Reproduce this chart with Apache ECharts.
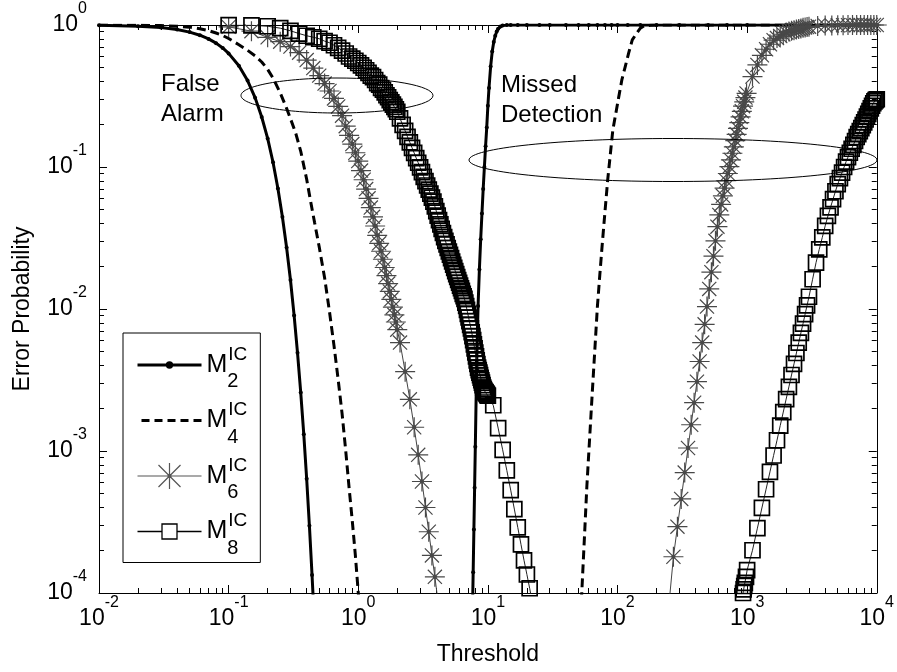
<!DOCTYPE html>
<html><head><meta charset="utf-8">
<script src="https://cdn.jsdelivr.net/npm/echarts@6/dist/echarts.min.js"></script>
<style>html,body{margin:0;padding:0;background:#fff}#c{width:897px;height:672px}</style>
</head><body><div id="c"></div>
<script>
const FONT = 'Liberation Sans, Arial, Helvetica, sans-serif';

// tick labels
const xTickValues = [0.01, 0.1, 1, 10, 100, 1000, 10000];
const xTickExponents = ['-2', '-1', '0', '1', '2', '3', '4'];
const yTickValues = [0.0001, 0.001, 0.01, 0.1, 1];
const yTickExponents = ['-4', '-3', '-2', '-1', '0'];

// legend
const seriesNames = ['M2', 'M4', 'M6', 'M8'];
const legendSubscripts = ['2', '4', '6', '8'];
const legendSuperscript = 'IC';

// M2 : false alarm and missed detection
const m2FaX = [0.01,0.02,0.03,0.04,0.05,0.06,0.07,0.08,0.09,0.10,0.12,0.14,0.16,0.18,0.20,0.22,0.24,0.26,0.28,0.30,0.32,0.34,0.36,0.38,0.40,0.42,0.44,0.46];
const m2FaY = [0.9954,0.9818,0.9594,0.929,0.891,0.847,0.798,0.745,0.689,0.631,0.516,0.406,0.308,0.225,0.159,0.108,0.0706,0.0445,0.0271,0.0160,0.00901,0.00491,0.00258,0.00131,0.000637,0.000297,0.000134,0.0000592];
const m2MdX = [7.6,7.7,7.8,7.9,8.0,8.2,8.4,8.6,8.8,9.0,9.2,9.4,9.6,9.8,10,10.2,10.5,10.8,11.1,11.4,11.7,12,12.5,13,14,15,17,20,25,30,40,50,60,70,80,90,100,120,150,200,300,500,700,1000,2000,5000,10000];
const m2MdY = [0.00007,0.00014,0.00028,0.00055,0.00107,0.0042,0.0105,0.019,0.031,0.047,0.07,0.10,0.14,0.19,0.27,0.36,0.51,0.65,0.76,0.84,0.90,0.94,0.975,0.99,0.998,1,1,1,1,1,1,1,1,1,1,1,1,1,1,1,1,1,1,1,1,1,1];

// M4
const m4FaX = [0.01,0.02,0.03,0.04,0.05,0.06,0.07,0.08,0.09,0.10,0.12,0.14,0.16,0.18,0.20,0.22,0.25,0.28,0.30,0.33,0.36,0.40,0.43,0.46,0.50,0.55,0.60,0.65,0.70,0.75,0.80,0.85,0.90,0.95,1.00,1.05];
const m4FaY = [0.999,0.996,0.990,0.980,0.966,0.942,0.914,0.878,0.844,0.803,0.726,0.664,0.607,0.549,0.487,0.423,0.333,0.259,0.219,0.172,0.129,0.082,0.0567,0.0408,0.0273,0.0166,0.00956,0.00552,0.00318,0.00184,0.00101,0.00055,0.00032,0.000184,0.000101,0.000056];
const m4MdX = [52,54,56,58,60,62,64,66,68,70,73,76,80,84,88,92,97,102,108,115,122,130,140,150,160,180,200,300,500,1000,3000,10000];
const m4MdY = [0.0000697,0.000143,0.000285,0.00056,0.00096,0.00161,0.00266,0.00425,0.0067,0.01047,0.0173,0.0275,0.0482,0.081,0.1226,0.182,0.238,0.308,0.41,0.514,0.636,0.785,0.87,0.95,0.985,0.997,1,1,1,1,1,1];

// M6
const m6FaX = [0.10,0.15,0.20,0.25,0.30,0.35,0.40,0.45,0.50,0.55,0.60,0.65,0.70,0.75,0.80,0.85,0.90,0.95,1.00,1.05,1.10,1.15,1.20,1.25,1.30,1.35,1.40,1.45,1.50,1.55,1.60,1.65,1.70,1.75,1.80,1.85,1.90,1.95,2.00,2.1,2.3,2.5,2.7,2.9,3.1,3.3,3.5,3.7,3.9,4.1];
const m6FaY = [0.970,0.905,0.819,0.763,0.705,0.638,0.566,0.497,0.440,0.387,0.343,0.304,0.267,0.230,0.194,0.167,0.145,0.126,0.110,0.0944,0.0813,0.0699,0.0602,0.0518,0.0446,0.0384,0.0330,0.0290,0.0255,0.0224,0.0196,0.0172,0.0151,0.0133,0.0117,0.0103,0.0091,0.0081,0.00715,0.0058,0.00362,0.00231,0.00147,0.00094,0.00061,0.0004,0.00027,0.000184,0.00013,0.000091];
const m6MdX = [250,270,290,310,330,350,370,390,410,430,450,470,490,510,530,550,570,590,610,630,650,670,690,710,730,750,770,790,810,830,850,870,890,910,930,950,970,990,1100,1200,1300,1400,1500,1600,1700,1800,1900,2000,2100,2200,2300,2400,2500,2600,2700,2800,2900,3000,3500,4000,4500,5000,5500,6000,6500,7000,7500,8000,8500,9000,9500,10000];
const m6MdY = [0.000085,0.00018,0.000293,0.00046,0.000705,0.00105,0.00153,0.00219,0.00308,0.00427,0.0058,0.0078,0.0104,0.01384,0.01816,0.02355,0.0302,0.038,0.046,0.0545,0.0627,0.071,0.080,0.090,0.1005,0.1122,0.125,0.1387,0.1535,0.170,0.187,0.2056,0.2254,0.2466,0.268,0.2877,0.3083,0.330,0.4335,0.5236,0.6117,0.675,0.732,0.782,0.809,0.836,0.861,0.886,0.90,0.91,0.92,0.929,0.938,0.946,0.955,0.962,0.968,0.973,0.984,0.990,0.993,0.995,0.997,0.998,0.998,0.999,0.999,0.999,1,1,1,1];

// M8
const m8FaX = [0.10,0.15,0.20,0.25,0.30,0.35,0.40,0.45,0.50,0.55,0.60,0.65,0.70,0.75,0.80,0.85,0.90,0.95,1.00,1.05,1.10,1.15,1.20,1.25,1.30,1.35,1.40,1.45,1.50,1.55,1.60,1.65,1.70,1.75,1.80,1.85,1.90,1.95,2.00,
  2.1,2.2,2.3,2.4,2.5,2.6,2.7,2.8,2.9,3.0,3.1,3.2,3.3,3.4,3.5,3.6,3.7,3.8,3.9,4.0,4.1,4.2,4.3,4.4,4.5,4.6,4.7,4.8,4.9,5.0,
  5.1,5.2,5.3,5.4,5.5,5.6,5.7,5.8,5.9,6.0,6.1,6.2,6.3,6.4,6.5,6.6,6.7,6.8,6.9,7.0,7.1,7.2,7.3,7.4,7.5,7.6,7.7,7.8,7.9,8.0,
  8.1,8.2,8.3,8.4,8.5,8.6,8.7,8.8,8.9,9.0,9.1,9.2,9.3,9.4,9.5,9.6,9.7,9.8,9.9,10.0,
  11,12,13,14,15,16,17,18,19,20,21,22];
const m8FaY = [0.999,0.995,0.98,0.95,0.91,0.87,0.84,0.82,0.80,0.77,0.75,0.72,0.69,0.66,0.63,0.60,0.58,0.56,0.54,0.52,0.50,0.48,0.46,0.44,0.43,0.41,0.39,0.38,0.36,0.35,0.335,0.32,0.31,0.296,0.285,0.275,0.265,0.255,0.245,
  0.22,0.198,0.1797,0.163,0.149,0.1365,0.1256,0.1156,0.1071,0.0993,0.092,0.0853,0.0795,0.0741,0.0694,0.065,0.0609,0.057,0.0528,0.0489,0.0454,0.0422,0.0394,0.0367,0.0343,0.0321,0.0302,0.0285,0.0269,0.0254,
  0.0241,0.0228,0.0216,0.0205,0.0195,0.0185,0.0176,0.0168,0.016,0.0153,0.0146,0.014,0.0134,0.0128,0.0123,0.0118,0.0111,0.0105,0.00986,0.00925,0.00871,0.0082,0.00774,0.0073,0.00686,0.00644,0.00603,0.00564,0.00528,0.00494,
  0.00464,0.00435,0.0041,0.00386,0.00371,0.00356,0.00342,0.00328,0.00315,0.00303,0.00291,0.0028,0.00273,0.00266,0.00262,0.00259,0.00255,0.00252,0.00248,0.00245,
  0.0021,0.00145,0.00102,0.00073,0.00053,0.00039,0.00029,0.00022,0.00017,0.000135,0.000108,0.000086];
const m8MdX = [920,930,940,950,960,980,1000,
  1100,1200,1300,1400,1500,1600,1700,1800,1900,2000,2100,2200,2300,2400,2500,2600,2700,2800,2900,
  3000,3200,3400,3600,3800,4000,4200,4400,4600,4800,5000,5200,5400,5600,5800,6000,6200,6400,6600,6800,7000,7200,7400,7600,7800,8000,8200,8400,8600,8800,9000,9200,9400,9600,9800,10000];
const m8MdY = [0.000095,0.0001,0.000106,0.000112,0.000118,0.00013,0.000145,
  0.0002,0.000286,0.000397,0.000538,0.000713,0.00093,0.00119,0.00151,0.00188,0.00232,0.00283,0.00343,0.00411,0.0049,0.0058,0.0068,0.0079,0.0092,0.0106,
  0.0122,0.0162,0.0212,0.0263,0.0319,0.0385,0.0452,0.052,0.0594,0.0675,0.0757,0.0834,0.0914,0.100,0.109,0.1175,0.126,0.1344,0.1432,0.1524,0.1626,0.1706,0.179,0.188,0.197,0.2065,0.216,0.2265,0.2366,0.2475,0.2588,0.270,0.2812,0.290,0.296,0.30];

function pairs(xs, ys) { return xs.map((x, i) => [x, ys[i]]); }
function expFormatter(values, exps) {
  return function (v) {
    let best = 0, bd = Infinity;
    values.forEach((t, i) => { const d = Math.abs(Math.log10(v) - Math.log10(t)); if (d < bd) { bd = d; best = i; } });
    return '{b|10}{s|' + exps[best] + '}';
  };
}
function minorTicks(e0, e1) {
  const out = [];
  for (let e = e0; e < e1; e++) for (let k = 2; k <= 9; k++) out.push(e + Math.log10(k));
  return out;
}

const ASTERISK = 'path://M0,-10L0,10M-10,0L10,0M-7.07,-7.07L7.07,7.07M-7.07,7.07L7.07,-7.07M-1.6,0A1.6,1.6,0,1,1,1.6,0A1.6,1.6,0,1,1,-1.6,0Z';
const ICON_M2 = 'path://M0,0M64,26M0,13L64,13M29.8,13A2.2,2.2,0,1,1,34.2,13A2.2,2.2,0,1,1,29.8,13Z';
const ICON_M4 = 'path://M0,0M64,26M4,13L12,13M17,13L25,13M30,13L38,13M43,13L51,13M56,13L64,13';
const ICON_M6 = 'path://M0,0M64,26M0,13L64,13M32,0L32,26M21,2L43,24M21,24L43,2M30.4,13A1.6,1.6,0,1,1,33.6,13A1.6,1.6,0,1,1,30.4,13Z';
const ICON_M8 = 'path://M0,0M64,26M0,13L24.5,13M39.5,13L64,13M24.5,5.5L39.5,5.5L39.5,20.5L24.5,20.5Z';

const richTick = {
  b: { fontSize: 23, fontFamily: FONT, color: '#000', lineHeight: 48, verticalAlign: 'middle' },
  s: { fontSize: 16, fontFamily: FONT, color: '#000', lineHeight: 16, verticalAlign: 'top' }
};
const black = '#000';
function logAxisBase(extra) {
  return Object.assign({
    type: 'log', logBase: 10, gridIndex: 0,
    axisLine: { show: true, onZero: false, lineStyle: { color: black, width: 1 } },
    axisTick: { show: true, inside: true, length: 8, lineStyle: { color: black, width: 1 } },
    minorTick: { show: false },
    splitLine: { show: false }
  }, extra);
}
function minorAxis(extra, ticks) {
  return Object.assign({
    type: 'value', gridIndex: 0,
    axisLine: { show: false, onZero: false },
    axisLabel: { show: false },
    splitLine: { show: false },
    axisTick: { show: true, inside: true, length: 5, customValues: ticks, lineStyle: { color: black, width: 1 } }
  }, extra);
}

const lineBase = { type: 'line', xAxisIndex: 0, yAxisIndex: 0, animation: false, silent: true, clip: true, emphasis: { disabled: true } };
const styM2 = { symbol: 'circle', symbolSize: 4, lineStyle: { color: black, width: 3 }, itemStyle: { color: black } };
const styM4 = { symbol: 'none', lineStyle: { color: black, width: 3, type: [9, 5] }, itemStyle: { color: black } };
const styM6 = { symbol: ASTERISK, symbolSize: 20, lineStyle: { color: '#444', width: 1 }, itemStyle: { color: black, borderColor: '#484848', borderWidth: 1.2 } };
const styM8 = { symbol: 'rect', symbolSize: 15, lineStyle: { color: '#222', width: 1 }, itemStyle: { color: 'rgba(0,0,0,0)', borderColor: black, borderWidth: 1.7 } };

const chart = echarts.init(document.getElementById('c'), null, { renderer: 'canvas' });
chart.setOption({
  backgroundColor: '#fff',
  animation: false,
  grid: { left: 99, right: 20, top: 25, bottom: 79 },
  xAxis: [
    logAxisBase({ min: 0.01, max: 10000, splitNumber: 6, position: 'bottom',
      axisLabel: { formatter: expFormatter(xTickValues, xTickExponents), rich: richTick, margin: 2 },
      name: 'Threshold', nameLocation: 'middle', nameGap: 50,
      nameTextStyle: { fontSize: 23, fontFamily: FONT, color: black } }),
    logAxisBase({ min: 0.01, max: 10000, splitNumber: 6, position: 'top', axisLabel: { show: false } }),
    minorAxis({ min: -2, max: 4, position: 'bottom' }, minorTicks(-2, 4)),
    minorAxis({ min: -2, max: 4, position: 'top' }, minorTicks(-2, 4))
  ],
  yAxis: [
    logAxisBase({ min: 0.0001, max: 1, splitNumber: 4, position: 'left',
      axisLabel: { formatter: expFormatter(yTickValues, yTickExponents), rich: richTick, margin: 12 },
      name: 'Error Probability', nameLocation: 'middle', nameGap: 65,
      nameTextStyle: { fontSize: 23, fontFamily: FONT, color: black } }),
    logAxisBase({ min: 0.0001, max: 1, splitNumber: 4, position: 'right', axisLabel: { show: false } }),
    minorAxis({ min: -4, max: 0, position: 'left' }, minorTicks(-4, 0)),
    minorAxis({ min: -4, max: 0, position: 'right' }, minorTicks(-4, 0))
  ],
  legend: {
    show: true, orient: 'vertical', left: 123, top: 333,
    padding: [5.5, 13, 4.5, 13], itemGap: 2.5, itemWidth: 64, itemHeight: 26,
    borderColor: black, borderWidth: 1, backgroundColor: '#fff',
    selectedMode: false, symbolKeepAspect: false,
    data: [
      { name: seriesNames[0], icon: ICON_M2, itemStyle: { color: black, borderColor: black, borderWidth: 3 } },
      { name: seriesNames[1], icon: ICON_M4, itemStyle: { color: 'rgba(0,0,0,0)', borderColor: black, borderWidth: 3 } },
      { name: seriesNames[2], icon: ICON_M6, itemStyle: { color: black, borderColor: '#555', borderWidth: 1.2 } },
      { name: seriesNames[3], icon: ICON_M8, itemStyle: { color: 'rgba(0,0,0,0)', borderColor: black, borderWidth: 1.3 } }
    ],
    formatter: function (name) {
      const i = seriesNames.indexOf(name);
      return '{m|M}{sub|' + legendSubscripts[i] + '}{sup|' + legendSuperscript + '}';
    },
    textStyle: {
      color: black, fontFamily: FONT,
      rich: {
        m: { fontSize: 25, fontFamily: FONT, color: black, lineHeight: 53, verticalAlign: 'middle' },
        sub: { fontSize: 20, fontFamily: FONT, color: black, lineHeight: 8, verticalAlign: 'bottom', width: 1 },
        sup: { fontSize: 19, fontFamily: FONT, color: black, lineHeight: 20, verticalAlign: 'top', padding: [6.5, 0, 0, 0] }
      }
    }
  },
  graphic: [
    { type: 'ellipse', silent: true, z: 10, shape: { cx: 337, cy: 95.5, rx: 96, ry: 17.5 }, style: { fill: 'none', stroke: black, lineWidth: 1 } },
    { type: 'ellipse', silent: true, z: 10, shape: { cx: 673, cy: 160, rx: 204, ry: 21.5 }, style: { fill: 'none', stroke: black, lineWidth: 1 } },
    { type: 'text', silent: true, z: 10, x: 161, y: 69, style: { text: 'False\nAlarm', fontSize: 24, fontFamily: FONT, lineHeight: 30, fill: black } },
    { type: 'text', silent: true, z: 10, x: 501, y: 70, style: { text: 'Missed\nDetection', fontSize: 24, fontFamily: FONT, lineHeight: 30, fill: black } }
  ],
  series: [
    Object.assign({}, lineBase, styM2, { name: seriesNames[0], data: pairs(m2FaX, m2FaY) }),
    Object.assign({}, lineBase, styM2, { name: seriesNames[0], data: pairs(m2MdX, m2MdY) }),
    Object.assign({}, lineBase, styM4, { name: seriesNames[1], data: pairs(m4FaX, m4FaY) }),
    Object.assign({}, lineBase, styM4, { name: seriesNames[1], data: pairs(m4MdX, m4MdY) }),
    Object.assign({}, lineBase, styM6, { name: seriesNames[2], data: pairs(m6FaX, m6FaY) }),
    Object.assign({}, lineBase, styM6, { name: seriesNames[2], data: pairs(m6MdX, m6MdY) }),
    Object.assign({}, lineBase, styM8, { name: seriesNames[3], data: pairs(m8FaX, m8FaY) }),
    Object.assign({}, lineBase, styM8, { name: seriesNames[3], data: pairs(m8MdX, m8MdY) })
  ]
});
</script>
</body></html>
